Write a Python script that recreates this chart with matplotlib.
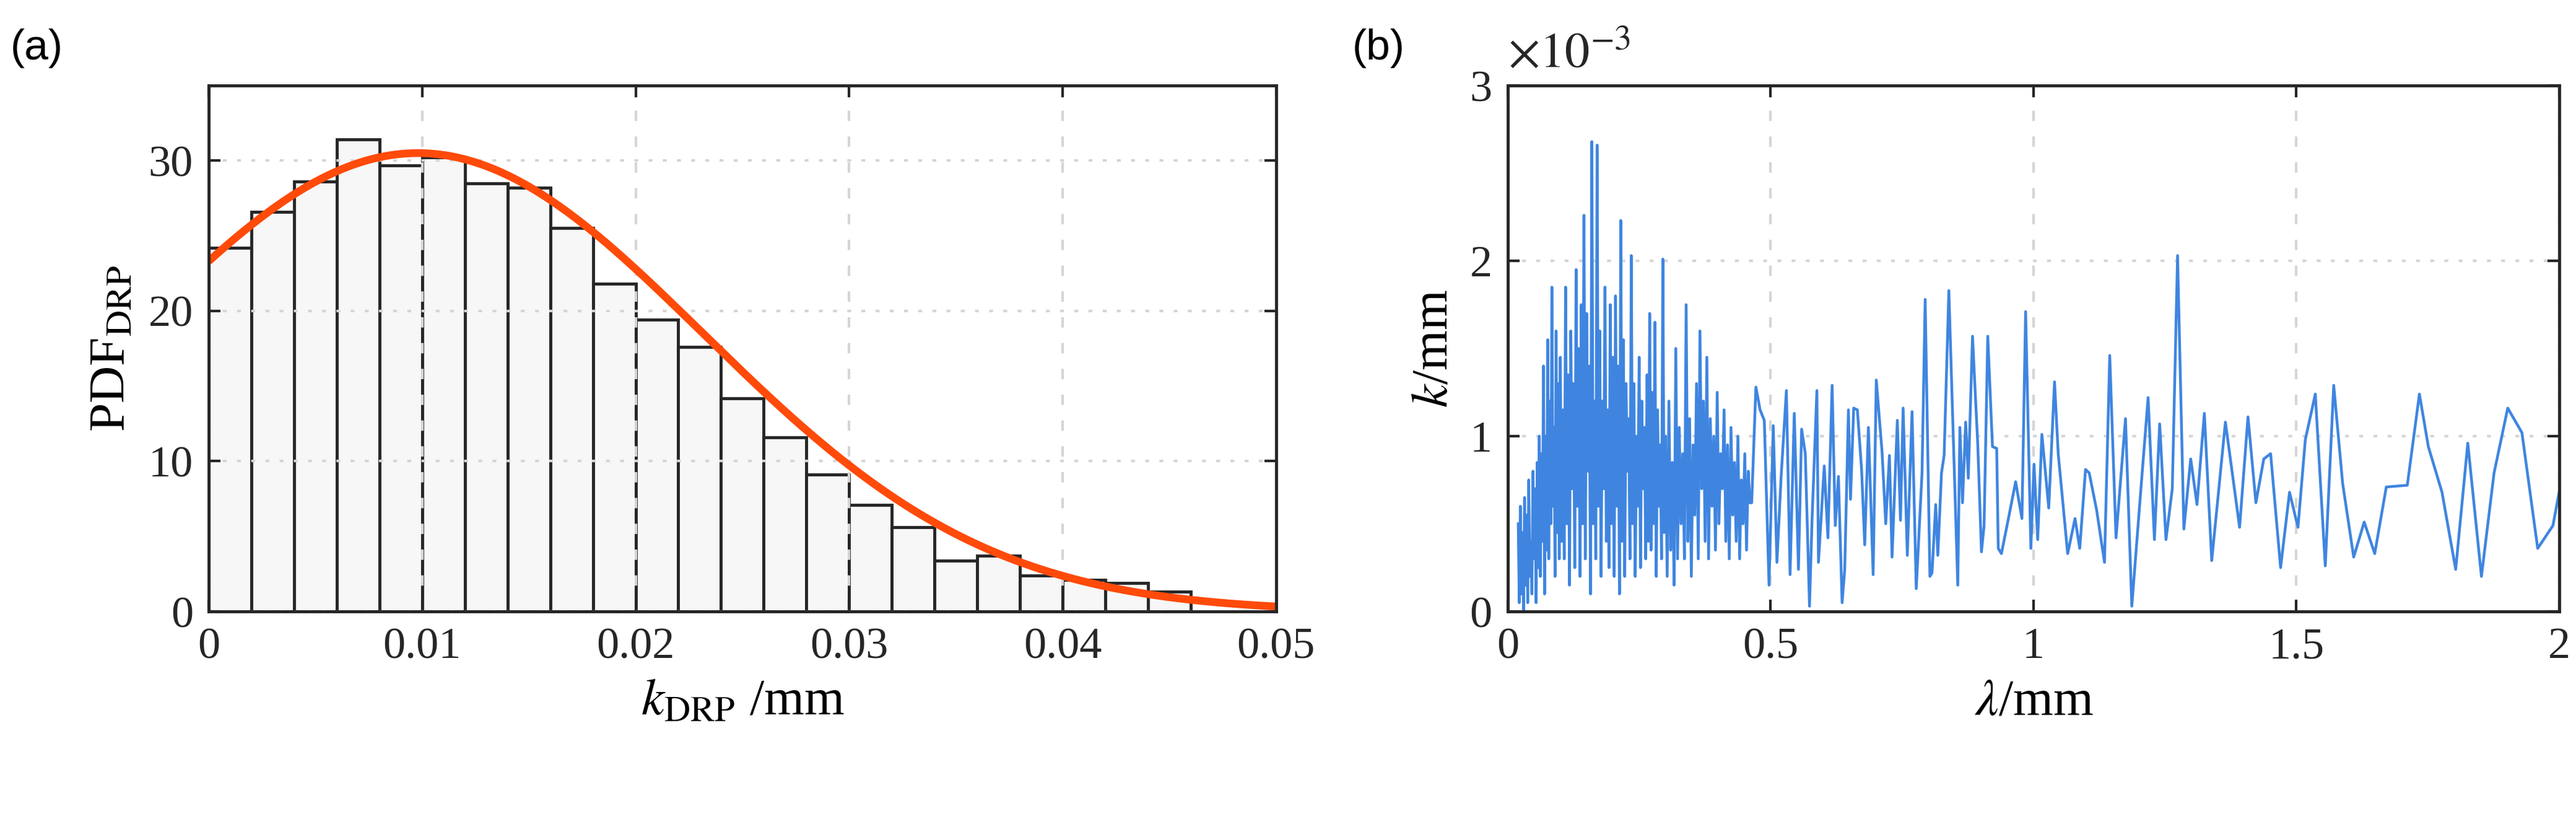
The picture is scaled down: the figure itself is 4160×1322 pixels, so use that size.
import numpy as np
import matplotlib
matplotlib.use("Agg")
import matplotlib.pyplot as plt

plt.rcParams['font.family'] = ['Liberation Serif', 'DejaVu Serif']
plt.rcParams['mathtext.fontset'] = 'stix'

# ---------- panel (a) data ----------
bin_edges_start = 0.0
bin_width = 0.002
hist_heights = [24.2, 26.6, 28.6, 31.4, 29.7, 30.2, 28.5, 28.2, 25.5, 21.8, 19.4, 17.6,
                14.2, 11.6, 9.1, 7.1, 5.6, 3.4, 3.7, 2.4, 2.1, 1.9, 1.3]
fit_mu = 0.0098
fit_sigma = 0.01336
fit_peak = 30.5

# ---------- panel (b) data (k in units of 1e-3 mm) ----------
dense_seg_ranges = [(0.02, 0.10), (0.10, 0.20), (0.20, 0.30), (0.30, 0.464)]
dense_seg_values = [
    [0.5,0.05,0.6,0.1,0.45,0.0,0.65,0.15,0.55,0.05,0.75,0.2,0.4,0.1,0.8,0.3,0.7,0.05,0.85,0.25,
     1.0,0.2,0.9,0.4,1.4,0.1,1.0,0.35,1.55,0.3,1.2,0.5,1.85,0.6,1.05,0.2,1.6,0.45,1.3,0.3],
    [1.45,0.4,1.15,0.3,1.85,0.5,1.35,0.15,1.6,0.7,1.3,0.25,1.95,0.6,1.5,0.2,1.75,0.5,2.26,0.3,
     1.7,0.8,1.4,0.1,2.68,0.5,1.2,0.3,2.66,0.6,1.6,0.2,1.2,0.7,1.85,0.4,1.15,0.25,1.75,0.5],
    [1.45,0.2,1.8,0.6,1.4,0.1,2.23,0.4,1.55,0.2,1.3,0.8,1.1,0.3,2.03,0.5,1.3,0.2,1.0,0.6,
     1.45,0.25,1.2,0.7,1.05,0.3,1.35,0.4,1.7,0.35,1.25,0.5,1.65,0.2,1.15,0.6,0.95,0.3,2.01,0.45],
    [1.0,0.2,1.2,0.35,0.85,0.15,1.5,0.3,1.05,0.5,0.9,0.3,1.75,0.4,1.1,0.2,0.95,0.55,1.3,0.3,
     1.6,0.7,1.2,0.4,1.45,0.3,1.1,0.6,1.0,0.35,1.25,0.5,0.9,0.7,1.15,0.4,0.95,0.3,1.05,0.55,
     0.85,0.4,1.0,0.3,0.75,0.5,0.9,0.35,0.8,0.62],
]
sparse_lambda = [0.464,0.472,0.480,0.488,0.497,0.505,0.512,0.520,0.530,0.537,0.545,0.553,0.559,0.566,
    0.574,0.579,0.588,0.591,0.602,0.609,0.617,0.623,0.629,0.636,0.641,0.648,0.652,0.658,0.665,0.673,
    0.679,0.686,0.695,0.701,0.712,0.719,0.726,0.731,0.741,0.747,0.752,0.760,0.769,0.777,0.788,0.794,
    0.803,0.807,0.814,0.818,0.825,0.830,0.839,0.848,0.856,0.860,0.865,0.871,0.876,0.884,0.894,0.901,
    0.906,0.913,0.922,0.930,0.933,0.939,0.953,0.966,0.978,0.985,0.995,1.001,1.008,1.016,1.029,1.040,
    1.047,1.065,1.079,1.088,1.099,1.106,1.120,1.135,1.145,1.157,1.175,1.187,1.203,1.218,1.230,1.240,
    1.252,1.264,1.274,1.286,1.299,1.311,1.325,1.339,1.365,1.392,1.408,1.423,1.438,1.451,1.470,1.487,
    1.503,1.517,1.536,1.555,1.571,1.588,1.609,1.629,1.649,1.671,1.711,1.734,1.751,1.777,1.803,1.826,
    1.852,1.876,1.902,1.929,1.959,1.988,2.001]
sparse_k = [0.62,1.28,1.15,1.09,0.15,1.06,0.28,0.77,1.26,0.21,1.13,0.24,1.04,0.90,
    0.03,0.54,1.26,0.28,0.83,0.42,1.29,0.49,0.77,0.05,0.24,1.15,0.64,1.16,1.15,0.81,
    0.38,1.05,0.21,1.32,0.91,0.50,0.89,0.31,1.09,0.52,1.16,0.32,1.14,0.13,0.79,1.78,
    0.20,0.22,0.61,0.32,0.79,0.89,1.83,0.94,0.15,1.05,0.62,1.08,0.76,1.57,0.95,0.34,
    0.49,1.57,0.94,0.93,0.36,0.33,0.54,0.74,0.53,1.71,0.36,0.84,0.41,1.01,0.59,1.31,
    0.90,0.33,0.53,0.36,0.81,0.79,0.58,0.28,1.46,0.42,1.10,0.03,0.65,1.22,0.41,1.07,
    0.41,0.70,2.03,0.47,0.87,0.61,1.13,0.29,1.08,0.48,1.11,0.62,0.87,0.90,0.25,0.68,
    0.48,0.98,1.24,0.26,1.29,0.73,0.31,0.51,0.33,0.71,0.72,1.24,0.94,0.68,0.24,0.96,
    0.20,0.79,1.16,1.02,0.36,0.49,0.70]

# ---------- figure ----------
fig = plt.figure(figsize=(41.6, 13.22), dpi=100)
ax1 = fig.add_axes([0.081, 0.2534, 0.4144, 0.6422])
ax2 = fig.add_axes([0.5853, 0.2534, 0.4082, 0.6422])

edge_col = '#262626'
tick_fs = 52
label_fs = 60

for ax in (ax1, ax2):
    ax.tick_params(direction='in', length=14, width=3, labelsize=tick_fs, top=True, right=True,
                   pad=18, colors=edge_col)
    for s in ax.spines.values():
        s.set_linewidth(3.5)
        s.set_color(edge_col)
        s.set_zorder(6)
    ax.set_axisbelow(False)

# panel a
left_edges = bin_edges_start + bin_width * np.arange(len(hist_heights))
ax1.bar(left_edges, hist_heights, width=bin_width, align='edge', facecolor='#f7f7f7',
        edgecolor=edge_col, linewidth=3.5, zorder=1)
xf = np.linspace(0, 0.05, 400)
ax1.plot(xf, fit_peak * np.exp(-(xf - fit_mu) ** 2 / (2 * fit_sigma ** 2)), color='#ff4a0a',
         lw=9, zorder=3, solid_capstyle='butt')
ax1.set_xlim(0, 0.05)
ax1.set_ylim(0, 35)
ax1.set_xticks([0, 0.01, 0.02, 0.03, 0.04, 0.05])
ax1.set_xticklabels(['0', '0.01', '0.02', '0.03', '0.04', '0.05'])
ax1.set_yticks([0, 10, 20, 30])
ax1.xaxis.grid(True, color='#d5d5d5', lw=3, ls=(0, (4, 6)), zorder=2)
ax1.yaxis.grid(True, color='#d5d5d5', lw=3, ls=(0, (1.5, 4)), zorder=2)
ax1.set_xlabel(r'$k_{\mathrm{DRP}}$ /mm', fontsize=label_fs, labelpad=14)
ax1.set_ylabel(r'PDF$_{\mathrm{DRP}}$', fontsize=label_fs, labelpad=14)

# panel b
lam = []
kv = []
for (a, b), vals in zip(dense_seg_ranges, dense_seg_values):
    lam.extend(np.linspace(a, b, len(vals), endpoint=False))
    kv.extend(vals)
lam.extend(sparse_lambda)
kv.extend(sparse_k)
ax2.plot(lam, np.array(kv) * 1e-3, color='#3f85e0', lw=3.2, zorder=3)
ax2.set_xlim(0, 2)
ax2.set_ylim(0, 3e-3)
ax2.set_xticks([0, 0.5, 1, 1.5, 2])
ax2.set_xticklabels(['0', '0.5', '1', '1.5', '2'])
ax2.set_yticks([0, 1e-3, 2e-3, 3e-3])
ax2.set_yticklabels(['0', '1', '2', '3'])
ax2.xaxis.grid(True, color='#d5d5d5', lw=3, ls=(0, (4, 6)), zorder=2)
ax2.yaxis.grid(True, color='#d5d5d5', lw=3, ls=(0, (1.5, 4)), zorder=2)
ax2.set_xlabel(r'$\lambda$/mm', fontsize=label_fs, labelpad=14)
ax2.set_ylabel(r'$k$/mm', fontsize=label_fs, labelpad=14)
ax2.text(0.0, 1.015, r'$\times10^{-3}$', transform=ax2.transAxes, fontsize=58,
         ha='left', va='bottom', color=edge_col)

fig.text(0.004, 0.965, '(a)', fontsize=50, family='Liberation Sans', va='top')
fig.text(0.525, 0.965, '(b)', fontsize=50, family='Liberation Sans', va='top')

fig.savefig('out.png', dpi=100)
